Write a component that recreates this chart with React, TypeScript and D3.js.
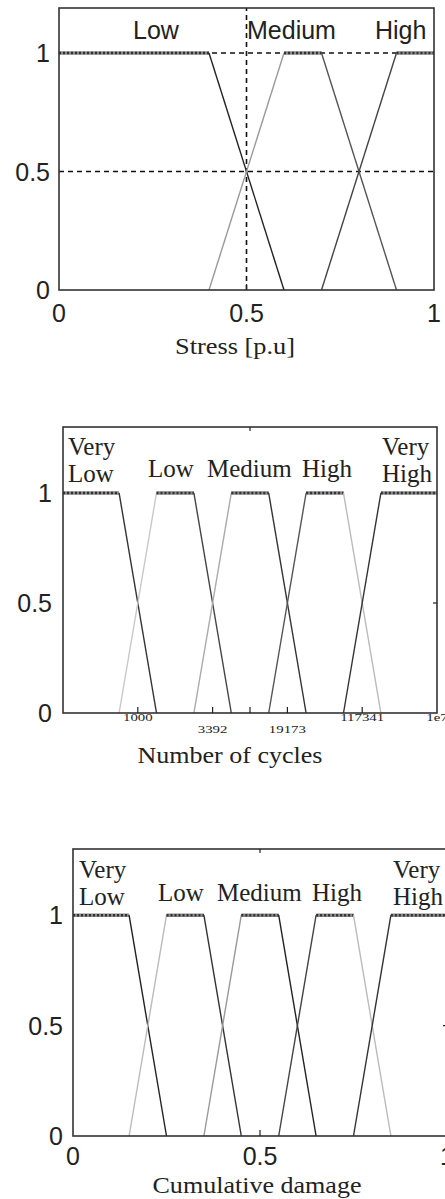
import React, { useRef, useEffect } from 'react';
import * as d3 from 'd3';

type Pt = [number, number];

// Stress [p.u] membership functions
const stressNames = ['Low', 'Medium', 'High'];
const stressLow: Pt[] = [[0, 1], [0.4, 1], [0.6, 0]];
const stressMedium: Pt[] = [[0.4, 0], [0.6, 1], [0.7, 1], [0.9, 0]];
const stressHigh: Pt[] = [[0.7, 0], [0.9, 1], [1, 1]];
const stressTicks = [0, 0.5, 1];
const stressTickLabels = ['0', '0.5', '1'];

// Number of cycles (normalised axis, custom tick labels)
const cycleNames = ['Very Low', 'Low', 'Medium', 'High', 'Very High'];
const cycleVeryLow: Pt[] = [[0, 1], [0.15, 1], [0.25, 0]];
const cycleLow: Pt[] = [[0.15, 0], [0.25, 1], [0.35, 1], [0.45, 0]];
const cycleMedium: Pt[] = [[0.35, 0], [0.45, 1], [0.55, 1], [0.65, 0]];
const cycleHigh: Pt[] = [[0.55, 0], [0.65, 1], [0.75, 1], [0.85, 0]];
const cycleVeryHigh: Pt[] = [[0.75, 0], [0.85, 1], [1, 1]];
const cycleTicks = [0.2, 0.4, 0.6, 0.8, 1];
const cycleTickLabels = ['1000', '3392', '19173', '117341', '1e7'];

// Cumulative damage
const damageNames = ['Very Low', 'Low', 'Medium', 'High', 'Very High'];
const damageVeryLow: Pt[] = [[0, 1], [0.15, 1], [0.25, 0]];
const damageLow: Pt[] = [[0.15, 0], [0.25, 1], [0.35, 1], [0.45, 0]];
const damageMedium: Pt[] = [[0.35, 0], [0.45, 1], [0.55, 1], [0.65, 0]];
const damageHigh: Pt[] = [[0.55, 0], [0.65, 1], [0.75, 1], [0.85, 0]];
const damageVeryHigh: Pt[] = [[0.75, 0], [0.85, 1], [1, 1]];
const damageTicks = [0, 0.5, 1];
const damageTickLabels = ['0', '0.5', '1'];

const yTicks = [0, 0.5, 1];
const yTickLabels = ['0', '0.5', '1'];

const SANS = '"Liberation Sans", Arial, sans-serif';
const SERIF = '"Liberation Serif", "Times New Roman", serif';

const panels = [
  {
    left: 59, right: 434, top: 8, bottom: 290, yMax: 1.19,
    mfs: [stressLow, stressMedium, stressHigh],
    names: stressNames,
    // [rising, falling]
    colors: [['#333', '#222'], ['#999', '#555'], ['#444', '#444']],
    nameFont: SANS, nameX: [133, 247, 375], nameY: [39, 39, 39],
    ticks: stressTicks, tickLabels: stressTickLabels,
    tickFont: SANS, tickSize: 25, tickY: [322, 322, 322], tickScale: 1,
    title: 'Stress [p.u]', titleX: 235, titleY: 354, titleLen: 120,
    guides: true,
    marks: { bottom: [0.5], top: [], right: [] as number[] },
    yLabelX: 50
  },
  {
    left: 63, right: 437, top: 427, bottom: 713, yMax: 1.3,
    mfs: [cycleVeryLow, cycleLow, cycleMedium, cycleHigh, cycleVeryHigh],
    names: cycleNames,
    colors: [['#333', '#333'], ['#c8c8c8', '#444'], ['#aaa', '#333'], ['#555', '#bbb'], ['#333', '#333']],
    nameFont: SERIF, nameX: [68, 148, 207, 302, 382], nameY: [482, 477, 477, 477, 482],
    ticks: cycleTicks, tickLabels: cycleTickLabels,
    tickFont: SERIF, tickSize: 11, tickY: [721, 733, 733, 721, 721], tickScale: 1.35,
    title: 'Number of cycles', titleX: 230, titleY: 763, titleLen: 185,
    guides: false,
    marks: { bottom: [0.2, 0.4, 0.5, 0.6, 0.8], top: [0.5], right: [0.5] },
    yLabelX: 52
  },
  {
    left: 73, right: 447, top: 849, bottom: 1136, yMax: 1.3,
    mfs: [damageVeryLow, damageLow, damageMedium, damageHigh, damageVeryHigh],
    names: damageNames,
    colors: [['#222', '#222'], ['#bbb', '#333'], ['#999', '#222'], ['#444', '#bbb'], ['#333', '#333']],
    nameFont: SERIF, nameX: [79, 158, 217, 312, 393], nameY: [905, 901, 901, 901, 905],
    ticks: damageTicks, tickLabels: damageTickLabels,
    tickFont: SANS, tickSize: 25, tickY: [1165, 1165, 1165], tickScale: 1,
    title: 'Cumulative damage', titleX: 257, titleY: 1193, titleLen: 209,
    guides: false,
    marks: { bottom: [0.5], top: [0.5], right: [0.5] },
    yLabelX: 63
  }
];

function drawPanel(svg: any, p: any) {
  const x = d3.scaleLinear().domain([0, 1]).range([p.left, p.right]);
  const y = d3.scaleLinear().domain([0, p.yMax]).range([p.bottom, p.top]);
  const g = svg.append('g');

  // dashed guide lines (stress panel only)
  if (p.guides) {
    [1, 0.5].forEach(v => {
      g.append('line')
        .attr('x1', x(0)).attr('x2', x(1))
        .attr('y1', y(v)).attr('y2', y(v))
        .attr('stroke', '#111').attr('stroke-width', 1.4)
        .attr('stroke-dasharray', '5,4');
    });
    g.append('line')
      .attr('x1', x(0.5)).attr('x2', x(0.5))
      .attr('y1', y(0)).attr('y2', y(p.yMax))
      .attr('stroke', '#111').attr('stroke-width', 1.6)
      .attr('stroke-dasharray', '5,4');
  }

  // membership functions
  p.mfs.forEach((pts: Pt[], i: number) => {
    d3.pairs(pts).forEach(([a, b]) => {
      if (a[1] === 1 && b[1] === 1) {
        g.append('line')
          .attr('x1', x(a[0])).attr('x2', x(b[0]))
          .attr('y1', y(1)).attr('y2', y(1))
          .attr('stroke', '#8a8a8a').attr('stroke-width', 3.4);
        g.append('line')
          .attr('x1', x(a[0])).attr('x2', x(b[0]))
          .attr('y1', y(1)).attr('y2', y(1))
          .attr('stroke', '#333').attr('stroke-width', 2.6)
          .attr('stroke-dasharray', '2,2');
      } else {
        const c = b[1] > a[1] ? p.colors[i][0] : p.colors[i][1];
        g.append('line')
          .attr('x1', x(a[0])).attr('x2', x(b[0]))
          .attr('y1', y(a[1])).attr('y2', y(b[1]))
          .attr('stroke', c).attr('stroke-width', 1.4);
      }
    });
  });

  // box
  g.append('rect')
    .attr('x', p.left).attr('y', p.top)
    .attr('width', p.right - p.left).attr('height', p.bottom - p.top)
    .attr('fill', 'none').attr('stroke', '#333').attr('stroke-width', 1.6);

  // inward tick marks
  p.marks.bottom.forEach((v: number) => {
    g.append('line').attr('x1', x(v)).attr('x2', x(v))
      .attr('y1', p.bottom).attr('y2', p.bottom - 6)
      .attr('stroke', '#222').attr('stroke-width', 1.2);
  });
  p.marks.top.forEach((v: number) => {
    g.append('line').attr('x1', x(v)).attr('x2', x(v))
      .attr('y1', p.top).attr('y2', p.top + 4)
      .attr('stroke', '#222').attr('stroke-width', 1.2);
  });
  p.marks.right.forEach((v: number) => {
    g.append('line').attr('x1', p.right).attr('x2', p.right - 4)
      .attr('y1', y(v)).attr('y2', y(v))
      .attr('stroke', '#222').attr('stroke-width', 1.2);
  });

  // y tick labels
  yTicks.forEach((v, i) => {
    g.append('text')
      .attr('x', p.yLabelX).attr('y', y(v)).attr('dy', '0.36em')
      .attr('text-anchor', 'end')
      .style('font-family', SANS).style('font-size', '25px').style('fill', '#222')
      .text(yTickLabels[i]);
  });

  // x tick labels
  p.ticks.forEach((v: number, i: number) => {
    g.append('text')
      .attr('transform', `translate(${x(v)},${p.tickY[i]}) scale(${p.tickScale},1)`)
      .attr('text-anchor', 'middle')
      .style('font-family', p.tickFont).style('font-size', `${p.tickSize}px`).style('fill', '#222')
      .text(p.tickLabels[i]);
  });

  // membership names
  p.names.forEach((name: string, i: number) => {
    const words = name.split(' ');
    const t = g.append('text')
      .style('font-family', p.nameFont).style('font-size', '25px').style('fill', '#222');
    words.forEach((w: string, j: number) => {
      t.append('tspan')
        .attr('x', p.nameX[i])
        .attr('y', p.nameY[i] - (words.length - 1 - j) * 27)
        .text(w);
    });
  });

  // axis title
  g.append('text')
    .attr('x', p.titleX).attr('y', p.titleY)
    .attr('text-anchor', 'middle')
    .attr('textLength', p.titleLen).attr('lengthAdjust', 'spacingAndGlyphs')
    .style('font-family', SERIF).style('font-size', '24px').style('fill', '#222')
    .text(p.title);
}

export default function App() {
  const ref = useRef<SVGSVGElement>(null);

  useEffect(() => {
    const svg = d3.select(ref.current);
    svg.selectAll('*').remove();
    svg.append('rect').attr('width', 445).attr('height', 1199).attr('fill', '#fff');
    panels.forEach(p => drawPanel(svg, p));
  }, []);

  return (
    <svg
      ref={ref}
      width={445}
      height={1199}
      style={{ position: 'absolute', left: 0, top: 0, display: 'block' }}
    />
  );
}
